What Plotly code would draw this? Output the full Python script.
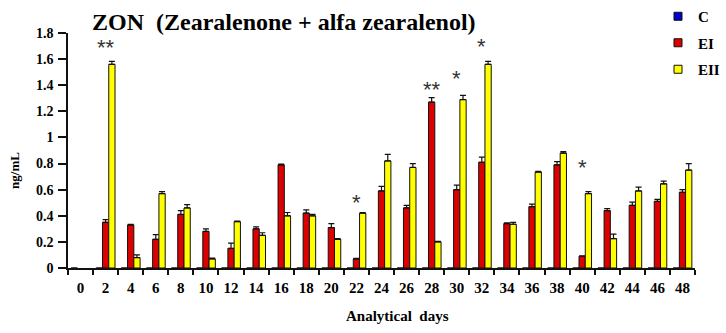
import plotly.graph_objects as go

days = [str(d) for d in range(0, 50, 2)]

c_vals = [0] * 25
ei_vals = [None, 0.35, 0.33, 0.22, 0.41, 0.28, 0.15, 0.30, 0.79, 0.42, 0.31, 0.07, 0.59,
           0.46, 1.27, 0.60, 0.81, 0.34, 0.47, 0.79, 0.09, 0.44, 0.48, 0.51, 0.58]
ei_err = [0, 0.02, 0.005, 0.035, 0.03, 0.02, 0.04, 0.015, 0.005, 0.025, 0.03, 0.003, 0.035,
          0.02, 0.035, 0.035, 0.04, 0.005, 0.02, 0.025, 0.003, 0.015, 0.025, 0.015, 0.02]
eii_vals = [None, 1.56, 0.08, 0.57, 0.46, 0.07, 0.355, 0.25, 0.40, 0.40, 0.22, 0.42, 0.82,
            0.77, 0.20, 1.29, 1.56, 0.335, 0.735, 0.88, 0.57, 0.225, 0.59, 0.645, 0.75]
eii_err = [0, 0.022, 0.02, 0.015, 0.025, 0.005, 0.005, 0.02, 0.025, 0.01, 0.005, 0.004, 0.05,
           0.03, 0.004, 0.033, 0.023, 0.015, 0.005, 0.012, 0.015, 0.035, 0.03, 0.02, 0.05]

sig_days = ["2", "22", "28", "30", "32", "40"]
sig_labels = ["**", "*", "**", "*", "*", "*"]
sig_y = [1.69, 0.50, 1.37, 1.45, 1.70, 0.77]

y_ticks = [0, 0.2, 0.4, 0.6, 0.8, 1, 1.2, 1.4, 1.6, 1.8]

SERIF = "Liberation Serif"
COL_C = "#0000CC"
COL_EI = "#DD0000"
COL_EII = "#FFFF00"

fig = go.Figure()

def err(arr):
    return dict(type="data", array=arr, arrayminus=[0] * len(arr), symmetric=False,
                color="#111111", thickness=1.2, width=3)

fig.add_trace(go.Bar(x=days, y=c_vals, name="C", marker=dict(color=COL_C, line=dict(color="#111", width=1)),
                     showlegend=False))
fig.add_trace(go.Bar(x=days, y=ei_vals, name="EI", marker=dict(color=COL_EI, line=dict(color="#111", width=1)),
                     error_y=err(ei_err), showlegend=False))
fig.add_trace(go.Bar(x=days, y=eii_vals, name="EII", marker=dict(color=COL_EII, line=dict(color="#111", width=1)),
                     error_y=err(eii_err), showlegend=False))

for nm, col in [("C", COL_C), ("EI", COL_EI), ("EII", COL_EII)]:
    fig.add_trace(go.Scatter(x=[None], y=[None], mode="markers", name=nm, legendgroup=nm,
                             marker=dict(symbol="square", size=8, color=col, line=dict(color="#111", width=1))))

annotations = []
for d, lab, yy in zip(sig_days, sig_labels, sig_y):
    annotations.append(dict(x=days.index(d), y=yy, xref="x", yref="y", text=lab, showarrow=False,
                            font=dict(family="Liberation Sans", size=22, color="#333"),
                            xanchor="center", yanchor="middle"))

annotations.append(dict(x=(284 - 68) / 627, y=(268 - 22) / 235, xref="paper", yref="paper",
                        text="ZON\u00a0\u00a0(Zearalenone + alfa zearalenol)", showarrow=False,
                        font=dict(family=SERIF, size=24, color="#000", weight="bold"),
                        xanchor="center", yanchor="middle"))
annotations.append(dict(x=(397 - 68) / 627, y=(268 - 316) / 235, xref="paper", yref="paper",
                        text="Analytical\u00a0\u00a0days",
                        showarrow=False, font=dict(family=SERIF, size=15, color="#000", weight="bold"),
                        xanchor="center", yanchor="middle"))
annotations.append(dict(x=-0.0845, y=0.413, xref="paper", yref="paper", text="ng/mL", textangle=-90,
                        showarrow=False, font=dict(family=SERIF, size=13, color="#000", weight="bold"),
                        xanchor="center", yanchor="middle"))

fig.update_layout(
    width=726, height=333,
    margin=dict(l=68, r=31, t=33, b=65, autoexpand=False),
    paper_bgcolor="white", plot_bgcolor="white",
    barmode="group", bargap=0.25, bargroupgap=0,
    font=dict(family=SERIF, size=14, color="#000"),
    annotations=annotations,
    legend=dict(xref="container", yref="container", x=658 / 726, y=1 + 0 / 333,
                xanchor="left", yanchor="top", tracegroupgap=4,
                font=dict(family=SERIF, size=15, weight="bold"), bgcolor="rgba(0,0,0,0)"),
    showlegend=True,
)
fig.update_xaxes(type="category", range=[-0.5, 24.5], showline=True, linecolor="#111", linewidth=1.5,
                 ticks="outside", tickson="boundaries", ticklen=5, tickcolor="#111", tickwidth=1.5,
                 tickangle=0, ticklabelstandoff=5, tickfont=dict(family=SERIF, size=15, weight="bold"),
                 showgrid=False, zeroline=False)
fig.update_yaxes(range=[0, 1.8], tickvals=y_ticks, showline=True, linecolor="#111", linewidth=1.5,
                 ticks="outside", ticklen=8, tickcolor="#111", tickwidth=1.5, ticklabelstandoff=2,
                 tickfont=dict(family=SERIF, size=14, weight="bold"), showgrid=False, zeroline=False)

fig.write_html("out.html", config={"displayModeBar": False},
               post_script="document.body.style.margin='0';document.body.style.overflow='hidden';")
